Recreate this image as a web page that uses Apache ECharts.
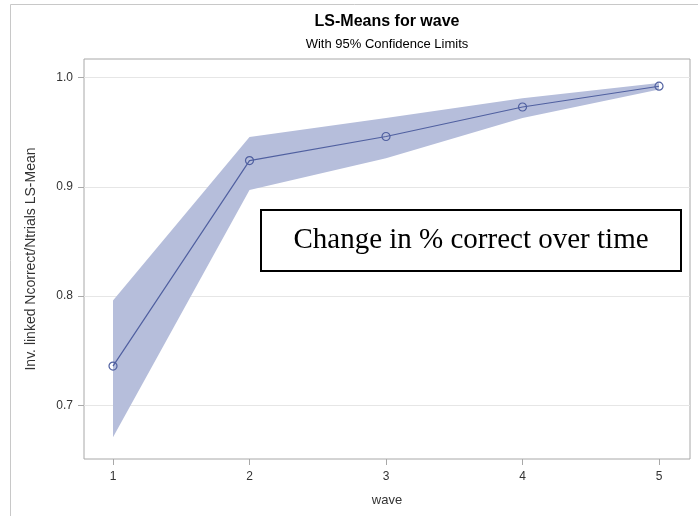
<!DOCTYPE html>
<html>
<head>
<meta charset="utf-8">
<script src="https://cdn.jsdelivr.net/npm/echarts@6/dist/echarts.min.js"></script>
<style>
html,body{margin:0;padding:0;background:#fff;}
#c{width:698px;height:516px;}
</style>
</head>
<body>
<div id="c"></div>
<script>
var waves = [1, 2, 3, 4, 5];
var lsMeans = [0.736, 0.924, 0.946, 0.973, 0.992];
var lowerCL = [0.671, 0.897, 0.926, 0.963, 0.989];
var upperCL = [0.796, 0.9455, 0.963, 0.981, 0.995];
var yTicks = [0.7, 0.8, 0.9, 1.0];
var xTicks = [1, 2, 3, 4, 5];

var chart = echarts.init(document.getElementById('c'), null, {renderer: 'canvas'});

var lineData = waves.map(function (w, i) { return [w, lsMeans[i]]; });

var option = {
  animation: false,
  backgroundColor: '#ffffff',
  title: {
    text: 'LS-Means for wave',
    subtext: 'With 95% Confidence Limits',
    left: 382,
    textAlign: 'center',
    top: 9,
    itemGap: 8,
    textStyle: {fontFamily: 'Liberation Sans', fontSize: 16, fontWeight: 'bold', color: '#000'},
    subtextStyle: {fontFamily: 'Liberation Sans', fontSize: 13, color: '#000'}
  },
  grid: {
    left: 84, right: 8, top: 59, bottom: 57,
    show: true, borderColor: '#a8a8a8', borderWidth: 1, backgroundColor: 'transparent'
  },
  xAxis: {
    type: 'value',
    min: 0.7875, max: 5.227,
    name: 'wave',
    nameLocation: 'middle',
    nameGap: 35,
    nameTextStyle: {fontFamily: 'Liberation Sans', fontSize: 13, color: '#333'},
    axisLine: {show: false},
    axisTick: {show: true, customValues: xTicks, length: 6, lineStyle: {color: '#a8a8a8'}},
    axisLabel: {customValues: xTicks, margin: 12, fontFamily: 'Liberation Sans', fontSize: 12, color: '#333',
      formatter: function (v) { return String(v); }},
    splitLine: {show: false}
  },
  yAxis: {
    type: 'value',
    min: 0.651, max: 1.0169,
    name: 'Inv. linked Ncorrect/Ntrials LS-Mean',
    nameLocation: 'middle',
    nameGap: 46,
    nameTextStyle: {fontFamily: 'Liberation Sans', fontSize: 14, color: '#333'},
    axisLine: {show: false},
    axisTick: {show: true, customValues: yTicks, length: 6, lineStyle: {color: '#a8a8a8'}},
    axisLabel: {customValues: yTicks, margin: 11, fontFamily: 'Liberation Sans', fontSize: 12, color: '#333',
      formatter: function (v) { return v.toFixed(1); }},
    splitLine: {show: true, lineStyle: {color: '#e6e6e6', width: 1}}
  },
  series: [
    {
      type: 'custom',
      name: 'band',
      z: 1,
      data: [[0]],
      renderItem: function (params, api) {
        var pts = [];
        for (var i = 0; i < waves.length; i++) pts.push(api.coord([waves[i], upperCL[i]]));
        for (var j = waves.length - 1; j >= 0; j--) pts.push(api.coord([waves[j], lowerCL[j]]));
        return {type: 'polygon', shape: {points: pts}, style: {fill: '#b6bedb', stroke: null}};
      },
      silent: true
    },
    {
      type: 'line',
      name: 'LS-Mean',
      z: 3,
      data: lineData,
      symbol: 'circle',
      symbolSize: 8,
      lineStyle: {color: '#5060a0', width: 1.2},
      itemStyle: {color: 'rgba(0,0,0,0)', borderColor: '#5060a0', borderWidth: 1.2},
      silent: true
    }
  ],
  graphic: [
    {type: 'polyline', shape: {points: [[10.5, 516], [10.5, 4.5], [698, 4.5]]}, style: {stroke: '#c8c8c8', lineWidth: 1, fill: null}, z: 0},
    {type: 'rect', shape: {x: 261, y: 210, width: 420, height: 61}, style: {fill: '#ffffff', stroke: '#000000', lineWidth: 2}, z: 10},
    {type: 'text', x: 471, y: 240.5, z: 11, style: {text: 'Change in % correct over time', fontFamily: 'Liberation Serif', fontSize: 29, fill: '#000', textAlign: 'center', textVerticalAlign: 'middle'}}
  ]
};
chart.setOption(option);
</script>
</body>
</html>
